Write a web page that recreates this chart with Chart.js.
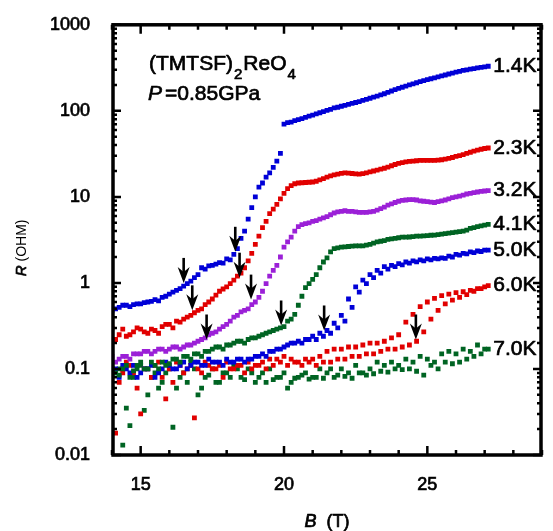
<!DOCTYPE html>
<html>
<head>
<meta charset="utf-8">
<script src="https://cdn.jsdelivr.net/npm/chart.js@4/dist/chart.umd.min.js"></script>
<style>
  html, body { margin: 0; padding: 0; background: #fff; }
</style>
</head>
<body>
<canvas id="chart_r" width="553" height="531"></canvas>
<script>
// campo magnético (T): barrido de subida y el de bajada, intercalado
const fieldUp = [14, 14.25, 14.5, 14.75, 15, 15.25, 15.5, 15.75, 16, 16.25,
  16.5, 16.75, 17, 17.25, 17.5, 17.75, 18, 18.25, 18.5, 18.75,
  19, 19.25, 19.5, 19.75, 20, 20.25, 20.5, 20.75, 21, 21.25,
  21.5, 21.75, 22, 22.25, 22.5, 22.75, 23, 23.25, 23.5, 23.75,
  24, 24.25, 24.5, 24.75, 25, 25.25, 25.5, 25.75, 26, 26.25,
  26.5, 26.75, 27];
const fieldDown = [14.125, 14.375, 14.625, 14.875, 15.125, 15.375, 15.625, 15.875, 16.125, 16.375,
  16.625, 16.875, 17.125, 17.375, 17.625, 17.875, 18.125, 18.375, 18.625, 18.875,
  19.125, 19.375, 19.625, 19.875, 20.125, 20.375, 20.625, 20.875, 21.125, 21.375,
  21.625, 21.875, 22.125, 22.375, 22.625, 22.875, 23.125, 23.375, 23.625, 23.875,
  24.125, 24.375, 24.625, 24.875, 25.125, 25.375, 25.625, 25.875, 26.125, 26.375,
  26.625, 26.875, 27.125];

// resistencia (ohm) por temperatura
const r14Up = [0.48, 0.52, 0.55, 0.56, 0.57, 0.6, 0.64, 0.68, 0.74, 0.82,
  0.92, 1.05, 1.25, 1.45, 1.6, 1.72, 1.9, 2.15, 3.3, 5.5,
  10, 14.5, 19, 26, 70, 74, 79, 84, 89, 95,
  101, 108, 113, 119, 125, 132, 140, 148, 158, 170,
  182, 194, 206, 218, 230, 242, 255, 268, 282, 295,
  305, 315, 325];
const r14Down = [0.5, 0.55, 0.53, 0.57, 0.59, 0.61, 0.62, 0.7, 0.78, 0.86,
  0.98, 1.15, 1.5, 1.58, 1.65, 1.7, 1.85, 2.5, 4.0, 7.5,
  13, 17, 22, 32, 73, 77, 81, 87, 92, 98,
  104, 110, 116, 122, 128, 136, 144, 153, 164, 176,
  188, 200, 212, 224, 236, 248, 261, 275, 288, 300,
  310, 320, 330];
const r23Up = [0.30, 0.25, 0.24, 0.27, 0.29, 0.26, 0.28, 0.31, 0.33, 0.36,
  0.38, 0.42, 0.48, 0.56, 0.65, 0.8, 0.9, 1.08, 1.3, 1.8,
  2.8, 4.4, 6.4, 8.2, 11, 13.5, 14.5, 14.7, 14.9, 15.8,
  17, 18, 18.8, 18.9, 18.5, 18.6, 19.5, 20.5, 21.5, 23,
  24.5, 25.5, 26, 26.5, 26.5, 26.5, 27, 28, 29.5, 31,
  33, 35, 36.5];
const r23Down = [0.22, 0.29, 0.25, 0.3, 0.27, 0.29, 0.26, 0.33, 0.3, 0.35,
  0.4, 0.45, 0.5, 0.6, 0.72, 0.85, 0.98, 1.2, 1.5, 2.2,
  3.5, 5.2, 7.2, 9.5, 12.5, 14.2, 14.6, 14.8, 15.2, 16.3,
  17.5, 18.4, 19, 18.7, 18.4, 19, 20, 21, 22.2, 23.8,
  25, 25.8, 26.3, 26.5, 26.5, 26.7, 27.5, 28.7, 30.2, 32,
  34, 35.8, 37];
const r32Up = [0.14, 0.13, 0.14, 0.15, 0.15, 0.16, 0.16, 0.17, 0.17, 0.18,
  0.18, 0.19, 0.21, 0.23, 0.26, 0.29, 0.33, 0.4, 0.46, 0.5,
  0.6, 0.8, 1.2, 1.6, 2.6, 3.4, 4.5, 4.9, 5.2, 5.5,
  5.9, 6.5, 6.8, 6.8, 6.7, 6.6, 6.7, 7.0, 7.6, 8.3,
  8.9, 9.2, 9.3, 9.0, 8.8, 8.6, 9.0, 9.5, 10.0, 10.5,
  11, 11.4, 11.7];
const r32Down = [0.12, 0.14, 0.13, 0.15, 0.16, 0.15, 0.17, 0.16, 0.18, 0.17,
  0.19, 0.2, 0.22, 0.25, 0.27, 0.31, 0.36, 0.42, 0.48, 0.56,
  0.68, 0.98, 1.4, 2.0, 3.0, 4.0, 4.75, 5.0, 5.3, 5.7,
  6.2, 6.7, 6.9, 6.8, 6.6, 6.6, 6.8, 7.3, 8.0, 8.6,
  9.1, 9.3, 9.2, 8.9, 8.7, 8.8, 9.2, 9.8, 10.2, 10.8,
  11.2, 11.6, 11.8];
const r41Up = [0.1, 0.085, 0.11, 0.095, 0.12, 0.1, 0.11, 0.12, 0.115, 0.13,
  0.14, 0.13, 0.15, 0.16, 0.17, 0.18, 0.19, 0.2, 0.21, 0.22,
  0.23, 0.25, 0.27, 0.29, 0.31, 0.38, 0.55, 0.88, 1.1, 1.5,
  1.95, 2.5, 2.6, 2.65, 2.7, 2.7, 2.8, 3.0, 3.1, 3.25,
  3.35, 3.4, 3.45, 3.5, 3.55, 3.6, 3.7, 3.8, 3.9, 4.0,
  4.3, 4.5, 4.7];
const r41Down = [0.09, 0.1, 0.08, 0.11, 0.1, 0.12, 0.1, 0.11, 0.13, 0.12,
  0.14, 0.15, 0.14, 0.16, 0.18, 0.17, 0.19, 0.21, 0.2, 0.23,
  0.24, 0.26, 0.28, 0.3, 0.36, 0.43, 0.7, 0.98, 1.25, 1.75,
  2.3, 2.55, 2.62, 2.68, 2.7, 2.75, 2.9, 3.05, 3.2, 3.3,
  3.4, 3.42, 3.5, 3.52, 3.58, 3.65, 3.75, 3.85, 3.95, 4.1,
  4.4, 4.6, 4.8];
const r50Up = [0.09, 0.08, 0.1, 0.11, 0.09, 0.1, 0.08, 0.1, 0.11, 0.1,
  0.12, 0.11, 0.12, 0.11, 0.12, 0.12, 0.13, 0.12, 0.13, 0.13,
  0.14, 0.15, 0.16, 0.17, 0.18, 0.2, 0.21, 0.22, 0.24, 0.26,
  0.28, 0.34, 0.42, 0.65, 0.9, 1.08, 1.25, 1.4, 1.55, 1.6,
  1.68, 1.75, 1.8, 1.85, 1.9, 1.93, 1.95, 2.05, 2.15, 2.2,
  2.3, 2.35, 2.4];
const r50Down = [0.1, 0.11, 0.09, 0.08, 0.1, 0.11, 0.09, 0.12, 0.1, 0.11,
  0.1, 0.12, 0.11, 0.13, 0.12, 0.11, 0.12, 0.13, 0.12, 0.13,
  0.14, 0.14, 0.16, 0.17, 0.19, 0.2, 0.2, 0.22, 0.22, 0.24,
  0.26, 0.3, 0.36, 0.52, 0.78, 0.98, 1.15, 1.3, 1.45, 1.55,
  1.62, 1.7, 1.76, 1.8, 1.85, 1.9, 1.93, 2.0, 2.1, 2.18,
  2.25, 2.32, 2.4];
const r60Up = [0.1, 0.07, 0.12, 0.09, 0.03, 0.1, 0.11, 0.08, 0.1, 0.12,
  0.09, 0.11, 0.1, 0.12, 0.1, 0.11, 0.12, 0.1, 0.11, 0.12,
  0.11, 0.12, 0.13, 0.13, 0.14, 0.13, 0.12, 0.13, 0.13, 0.14,
  0.16, 0.17, 0.17, 0.18, 0.18, 0.19, 0.2, 0.2, 0.21, 0.23,
  0.25, 0.35, 0.43, 0.53, 0.6, 0.66, 0.71, 0.74, 0.77, 0.79,
  0.82, 0.86, 0.9];
const r60Down = [0.018, 0.09, 0.11, 0.06, 0.1, 0.08, 0.12, 0.045, 0.07, 0.11,
  0.1, 0.027, 0.09, 0.11, 0.1, 0.08, 0.1, 0.11, 0.09, 0.1,
  0.11, 0.1, 0.11, 0.12, 0.11, 0.12, 0.11, 0.12, 0.11, 0.12,
  0.12, 0.13, 0.13, 0.14, 0.14, 0.15, 0.15, 0.16, 0.17, 0.17,
  0.18, 0.19, 0.21, 0.27, 0.38, 0.48, 0.57, 0.63, 0.68, 0.73,
  0.8, 0.86, 0.93];
const r70Up = [0.06, 0.1, 0.035, 0.08, 0.11, 0.05, 0.09, 0.07, 0.1, 0.06,
  0.09, 0.12, 0.05, 0.08, 0.1, 0.07, 0.09, 0.11, 0.08, 0.1,
  0.07, 0.09, 0.1, 0.08, 0.09, 0.07, 0.08, 0.09, 0.08, 0.1,
  0.09, 0.08, 0.1, 0.09, 0.11, 0.09, 0.1, 0.12, 0.11, 0.12,
  0.11, 0.13, 0.12, 0.14, 0.13, 0.12, 0.15, 0.16, 0.15, 0.17,
  0.16, 0.19, 0.17];
const r70Down = [0.09, 0.013, 0.022, 0.1, 0.033, 0.08, 0.06, 0.09, 0.021, 0.08,
  0.07, 0.1, 0.06, 0.085, 0.07, 0.09, 0.08, 0.1, 0.075, 0.09,
  0.08, 0.07, 0.075, 0.08, 0.06, 0.078, 0.085, 0.076, 0.08, 0.078,
  0.1, 0.085, 0.082, 0.078, 0.09, 0.085, 0.088, 0.094, 0.092, 0.1,
  0.098, 0.1, 0.094, 0.085, 0.11, 0.1, 0.12, 0.115, 0.12, 0.13,
  0.14, 0.15, 0.17];

const temps = ['1.4K', '2.3K', '3.2K', '4.1K', '5.0K', '6.0K', '7.0K'];
const curvasUp = [r14Up, r23Up, r32Up, r41Up, r50Up, r60Up, r70Up];
const curvasDown = [r14Down, r23Down, r32Down, r41Down, r50Down, r60Down, r70Down];

// flechas: campo y resistencia de la punta
const arrowField = [16.5, 18.3, 16.8, 18.45, 17.3, 18.85, 19.9, 21.4, 24.6];
const arrowR = [1.0, 2.3, 0.48, 1.15, 0.22, 0.64, 0.32, 0.28, 0.22];

// etiquetas de los ejes
const rTicks = [0.01, 0.1, 1, 10, 100, 1000];
const rTickText = ['0.01', '0.1', '1', '10', '100', '1000'];
const fieldTicks = [15, 20, 25];

const colores = ['rgb(0,0,215)', 'rgb(225,0,0)', 'rgb(155,32,215)', 'rgb(0,100,35)',
  'rgb(0,0,215)', 'rgb(225,0,0)', 'rgb(0,100,35)'];
const fuente = "'Liberation Sans', Arial, sans-serif";

let datasets = [];
temps.forEach((t, i) => {
  [[fieldUp, curvasUp[i]], [fieldDown, curvasDown[i]]].forEach(([bs, rs]) => {
    datasets.push({
      label: t,
      data: bs.map((b, k) => ({x: b, y: rs[k]})),
      backgroundColor: colores[i],
      borderWidth: 0,
      pointStyle: 'rect',
      pointRadius: 3.4,
      showLine: false
    });
  });
});

function esMayor(v) {
  return rTicks.some(t => Math.abs(Math.log10(t) - Math.log10(v)) < 1e-6);
}

// texto un poco más grueso que el normal
function texto(ctx, s, x, y) {
  ctx.fillText(s, x, y);
  ctx.strokeText(s, x, y);
}

function flecha(ctx, x, y) {
  ctx.beginPath();
  ctx.moveTo(x, y - 25);
  ctx.lineTo(x, y - 10);
  ctx.lineWidth = 2.6;
  ctx.stroke();
  ctx.beginPath();
  ctx.moveTo(x, y);
  ctx.lineTo(x - 6, y - 16);
  ctx.lineTo(x, y - 11);
  ctx.lineTo(x + 6, y - 16);
  ctx.closePath();
  ctx.fill();
}

// marco, marcas hacia dentro, flechas y textos
const marcos = {
  id: 'marcos',
  afterDatasetsDraw(chart) {
    const ctx = chart.ctx;
    const {left, right, top, bottom} = chart.chartArea;
    const sx = chart.scales.x, sy = chart.scales.y;
    ctx.save();
    ctx.strokeStyle = '#000';
    ctx.fillStyle = '#000';
    ctx.lineWidth = 2.5;
    sx.ticks.forEach(tk => {
      if (!Number.isInteger(tk.value)) return;
      const px = sx.getPixelForValue(tk.value);
      const len = fieldTicks.includes(tk.value) ? 9 : 5;
      ctx.beginPath();
      ctx.moveTo(px, bottom); ctx.lineTo(px, bottom - len);
      ctx.moveTo(px, top); ctx.lineTo(px, top + len);
      ctx.stroke();
    });
    sy.ticks.forEach(tk => {
      const e = Math.floor(Math.log10(tk.value) + 1e-9);
      const m = tk.value / Math.pow(10, e);
      if (Math.abs(m - Math.round(m)) > 1e-6) return;
      const py = sy.getPixelForValue(tk.value);
      const len = esMayor(tk.value) ? 9 : 5;
      ctx.beginPath();
      ctx.moveTo(left, py); ctx.lineTo(left + len, py);
      ctx.moveTo(right, py); ctx.lineTo(right - len, py);
      ctx.stroke();
    });
    ctx.lineWidth = 3.5;
    ctx.strokeRect(left + 1, top, right - left - 2, bottom - top);

    arrowField.forEach((b, i) => flecha(ctx, sx.getPixelForValue(b), sy.getPixelForValue(arrowR[i])));

    ctx.lineWidth = 0.7;
    ctx.lineJoin = 'round';

    // temperatura al final de cada curva
    ctx.font = '21px ' + fuente;
    ctx.textBaseline = 'middle';
    ctx.textAlign = 'left';
    temps.forEach((t, i) => {
      const n = fieldDown.length - 1;
      texto(ctx, t, sx.getPixelForValue(fieldDown[n]) + 5, sy.getPixelForValue(curvasDown[i][n]));
    });

    // compuesto y presión
    ctx.textBaseline = 'alphabetic';
    let x = 149;
    const trozos = [['(TMTSF)', 21, 0], ['2', 15, 9], ['ReO', 21, 0], ['4', 15, 9]];
    trozos.forEach(([s, f, dy]) => {
      ctx.font = f + 'px ' + fuente;
      texto(ctx, s, x, 70 + dy);
      x += ctx.measureText(s).width + 1;
    });
    ctx.font = 'italic 21px ' + fuente;
    texto(ctx, 'P', 148, 100);
    x = 148 + ctx.measureText('P').width + 3;
    ctx.font = '21px ' + fuente;
    texto(ctx, '=0.85GPa', x, 100);

    // títulos de los ejes
    const cx = (left + right) / 2;
    ctx.font = 'italic 18px ' + fuente;
    const wB = ctx.measureText('B').width;
    ctx.font = '18px ' + fuente;
    const wT = ctx.measureText('  (T)').width;
    let x0 = cx - (wB + wT) / 2;
    ctx.textBaseline = 'middle';
    ctx.font = 'italic 18px ' + fuente;
    texto(ctx, 'B', x0, 522);
    ctx.font = '18px ' + fuente;
    texto(ctx, '  (T)', x0 + wB, 522);

    ctx.translate(22, (top + bottom) / 2 + 8);
    ctx.rotate(-Math.PI / 2);
    ctx.font = 'italic 15px ' + fuente;
    const wR = ctx.measureText('R').width;
    ctx.font = '14px ' + fuente;
    const wO = ctx.measureText(' (OHM)').width;
    x0 = -(wR + wO) / 2;
    ctx.font = 'italic 15px ' + fuente;
    texto(ctx, 'R', x0, 0);
    ctx.font = '14px ' + fuente;
    ctx.fillText(' (OHM)', x0 + wR, 0);
    ctx.restore();
  }
};

Chart.defaults.font.family = fuente;

let grafica = new Chart(document.getElementById('chart_r'), {
  type: 'scatter',
  data: {datasets: datasets},
  options: {
    responsive: false,
    animation: false,
    devicePixelRatio: 1,
    layout: {padding: {left: 0, right: 3, top: 16, bottom: 0}},
    scales: {
      x: {
        type: 'linear',
        min: 14,
        max: 29,
        grid: {display: false},
        border: {display: false},
        afterFit: s => { s.height = 76; },
        ticks: {
          stepSize: 1,
          autoSkip: false,
          maxRotation: 0,
          padding: 11,
          color: '#000',
          textStrokeColor: '#000',
          textStrokeWidth: 0.7,
          font: {size: 18},
          callback: v => fieldTicks.includes(v) ? String(v) : ''
        }
      },
      y: {
        type: 'logarithmic',
        min: 0.01,
        max: 1000,
        grid: {display: false},
        border: {display: false},
        afterFit: s => { s.width = 112; },
        ticks: {
          autoSkip: false,
          padding: 14,
          color: '#000',
          textStrokeColor: '#000',
          textStrokeWidth: 0.7,
          font: {size: 18},
          callback: v => {
            const i = rTicks.findIndex(t => Math.abs(Math.log10(t) - Math.log10(v)) < 1e-6);
            return i >= 0 ? rTickText[i] : '';
          }
        }
      }
    },
    plugins: {
      legend: false,
      tooltip: {enabled: false}
    }
  },
  plugins: [marcos]
});
</script>
</body>
</html>
